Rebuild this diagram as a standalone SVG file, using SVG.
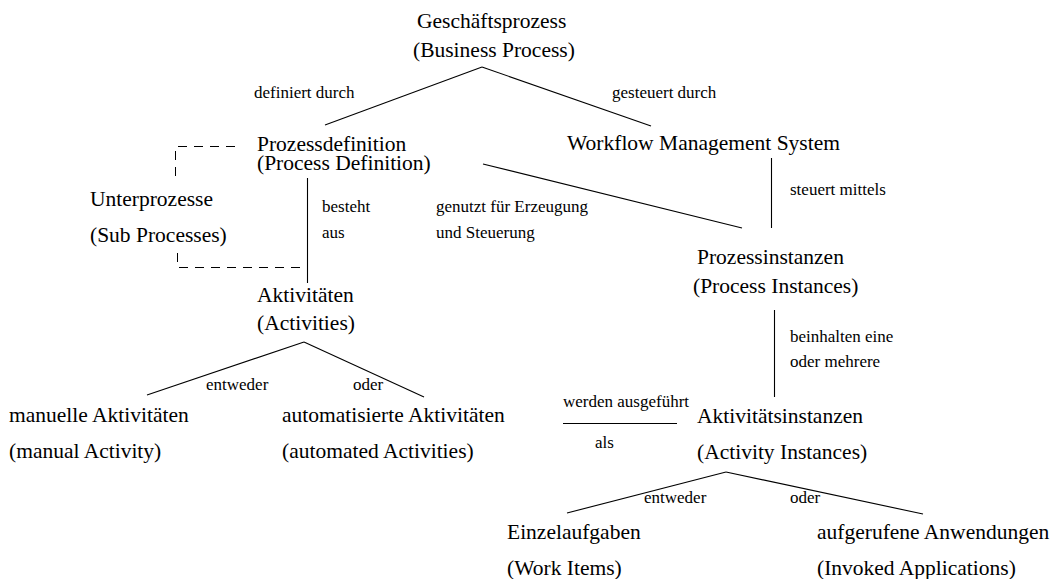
<svg xmlns="http://www.w3.org/2000/svg" width="1051" height="579" viewBox="0 0 1051 579">
<style>
text{font-family:"Liberation Serif","Times New Roman",serif;fill:#000}
.b{font-size:21.5px}
.s{font-size:17px}
.c line,.c path{stroke:#000;stroke-width:1.1;fill:none}
.c .d{stroke-width:1;stroke-dasharray:9 7}
</style>
<rect width="1051" height="579" fill="#fff"/>
<g class="c" id="connectors">
<line x1="482" y1="67" x2="325" y2="125"/>
<line x1="482" y1="67" x2="651" y2="126"/>
<line x1="483" y1="164" x2="742" y2="228"/>
<line x1="771.5" y1="158" x2="771.5" y2="228"/>
<line x1="307.5" y1="178" x2="307.5" y2="283"/>
<path class="d" d="M235,146.5 H175.5 V177"/>
<path class="d" d="M177.5,253 V267.5 H307"/>
<line x1="774.5" y1="310" x2="774.5" y2="397"/>
<line x1="304" y1="342" x2="147" y2="395"/>
<line x1="304" y1="342" x2="424" y2="397"/>
<line x1="563" y1="423.5" x2="677" y2="423.5"/>
<line x1="726" y1="472" x2="567" y2="513"/>
<line x1="726" y1="472" x2="923" y2="514"/>
</g>
<g id="labels">
<text class="s" x="254" y="98">definiert durch</text>
<text class="s" x="612" y="98">gesteuert durch</text>
<text class="s" x="322" y="212">besteht</text>
<text class="s" x="322" y="238">aus</text>
<text class="s" x="436" y="212">genutzt für Erzeugung</text>
<text class="s" x="436" y="238">und Steuerung</text>
<text class="s" x="790" y="195">steuert mittels</text>
<text class="s" x="790" y="342">beinhalten eine</text>
<text class="s" x="790" y="367">oder mehrere</text>
<text class="s" x="206" y="390">entweder</text>
<text class="s" x="353" y="390">oder</text>
<text class="s" x="563" y="407">werden ausgeführt</text>
<text class="s" x="595" y="448">als</text>
<text class="s" x="644" y="503">entweder</text>
<text class="s" x="790" y="503">oder</text>
</g>
<g id="n-business"><text class="b" x="417" y="28">Geschäftsprozess</text><text class="b" x="413" y="57">(Business Process)</text></g>
<g id="n-procdef"><text class="b" x="257" y="151">Prozessdefinition</text><text class="b" x="257" y="170">(Process Definition)</text></g>
<g id="n-wfms"><text class="b" x="567" y="150">Workflow Management System</text></g>
<g id="n-sub"><text class="b" x="90" y="206">Unterprozesse</text><text class="b" x="90" y="242">(Sub Processes)</text></g>
<g id="n-procinst"><text class="b" x="697" y="264">Prozessinstanzen</text><text class="b" x="693" y="293">(Process Instances)</text></g>
<g id="n-act"><text class="b" x="257" y="302">Aktivitäten</text><text class="b" x="257" y="330">(Activities)</text></g>
<g id="n-manual"><text class="b" x="9" y="422">manuelle Aktivitäten</text><text class="b" x="9" y="458">(manual Activity)</text></g>
<g id="n-auto"><text class="b" x="282" y="422">automatisierte Aktivitäten</text><text class="b" x="282" y="458">(automated Activities)</text></g>
<g id="n-actinst"><text class="b" x="697" y="423">Aktivitätsinstanzen</text><text class="b" x="697" y="459">(Activity Instances)</text></g>
<g id="n-work"><text class="b" x="507" y="539">Einzelaufgaben</text><text class="b" x="507" y="575">(Work Items)</text></g>
<g id="n-invoked"><text class="b" x="817" y="539">aufgerufene Anwendungen</text><text class="b" x="817" y="575">(Invoked Applications)</text></g>
</svg>
